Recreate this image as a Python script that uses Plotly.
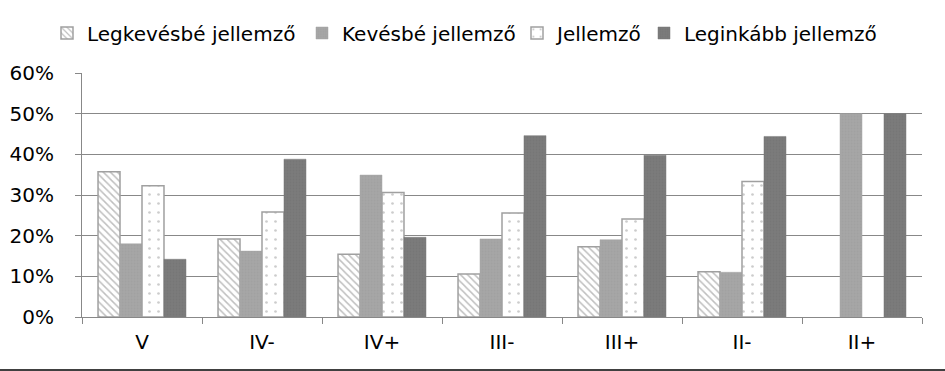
import plotly.graph_objects as go

categories = ["V", "IV-", "IV+", "III-", "III+", "II-", "II+"]
series_names = ["Legkevésbé jellemző", "Kevésbé jellemző", "Jellemző", "Leginkább jellemző"]
legkevesbe = [35.7, 19.2, 15.4, 10.6, 17.3, 11.1, 0]
kevesbe = [18.0, 16.2, 34.9, 19.2, 19.0, 11.0, 50.0]
jellemzo = [32.3, 25.8, 30.6, 25.6, 24.1, 33.3, 0]
leginkabb = [14.2, 38.8, 19.6, 44.6, 39.8, 44.4, 50.0]
y_ticks = [0, 10, 20, 30, 40, 50, 60]
y_tick_labels = ["0%", "10%", "20%", "30%", "40%", "50%", "60%"]

values = [legkevesbe, kevesbe, jellemzo, leginkabb]
styles = [
    dict(color="white", lc="#a0a0a0", lw=1.5,
         pattern=dict(shape="\\", fgcolor="#7f7f7f", size=5, solidity=0.3, fillmode="overlay")),
    dict(color="#a6a6a6", lc="#a6a6a6", lw=0.5,
         pattern=dict(shape=".", fgcolor="#9c9c9c", size=3, solidity=0.3, fillmode="overlay")),
    dict(color="white", lc="#a0a0a0", lw=1.5,
         pattern=dict(shape=".", fgcolor="#999999", size=9, solidity=0.07, fillmode="overlay")),
    dict(color="#7b7b7b", lc="#7b7b7b", lw=0.5,
         pattern=dict(shape=".", fgcolor="#717171", size=3, solidity=0.3, fillmode="overlay")),
]
legend_ids = ["legend", "legend2", "legend3", "legend4"]
legend_text_x = [87, 342, 557, 684]

fam = "DejaVu Sans, Verdana, sans-serif"
fig = go.Figure()
for name, vals, st, lid in zip(series_names, values, styles, legend_ids):
    widths = [st["lw"] if v > 0 else 0 for v in vals]
    fig.add_trace(go.Bar(
        name=name, x=categories, y=vals, legend=lid,
        marker=dict(color=st["color"], line=dict(color=st["lc"], width=widths),
                    pattern=st["pattern"]),
    ))

legends = {}
for lid, tx in zip(legend_ids, legend_text_x):
    legends[lid] = dict(orientation="h", xref="container", yref="container",
                        x=(tx - 40) / 945, xanchor="left", y=1 - 33 / 371, yanchor="middle",
                        font=dict(family=fam, size=20, color="black"),
                        bgcolor="rgba(0,0,0,0)", itemwidth=30)

fig.update_layout(
    width=945, height=371,
    margin=dict(l=82, r=23, t=73, b=54, autoexpand=False),
    paper_bgcolor="white", plot_bgcolor="white",
    barmode="group", bargap=0.267, bargroupgap=0,
    font=dict(family=fam, size=20, color="black"),
    showlegend=True,
    xaxis=dict(showgrid=False, showline=True, linecolor="#888888", linewidth=1,
               ticks="outside", tickson="boundaries", ticklen=6, tickcolor="#888888",
               ticklabelstandoff=7),
    yaxis=dict(range=[0, 60], tickvals=y_ticks, ticktext=y_tick_labels,
               showgrid=True, gridcolor="#888888", gridwidth=1,
               showline=True, linecolor="#888888", linewidth=1,
               ticks="outside", ticklen=6, tickcolor="#888888",
               ticklabelstandoff=17, zeroline=False),
    shapes=[dict(type="line", xref="paper", yref="paper",
                 x0=-0.1, x1=1.03, y0=-0.217, y1=-0.217,
                 line=dict(color="black", width=1.5))],
    **legends,
)

fig.write_html("out.html", config={"displayModeBar": False},
               post_script="document.body.style.margin='0';document.body.style.overflow='hidden';")
